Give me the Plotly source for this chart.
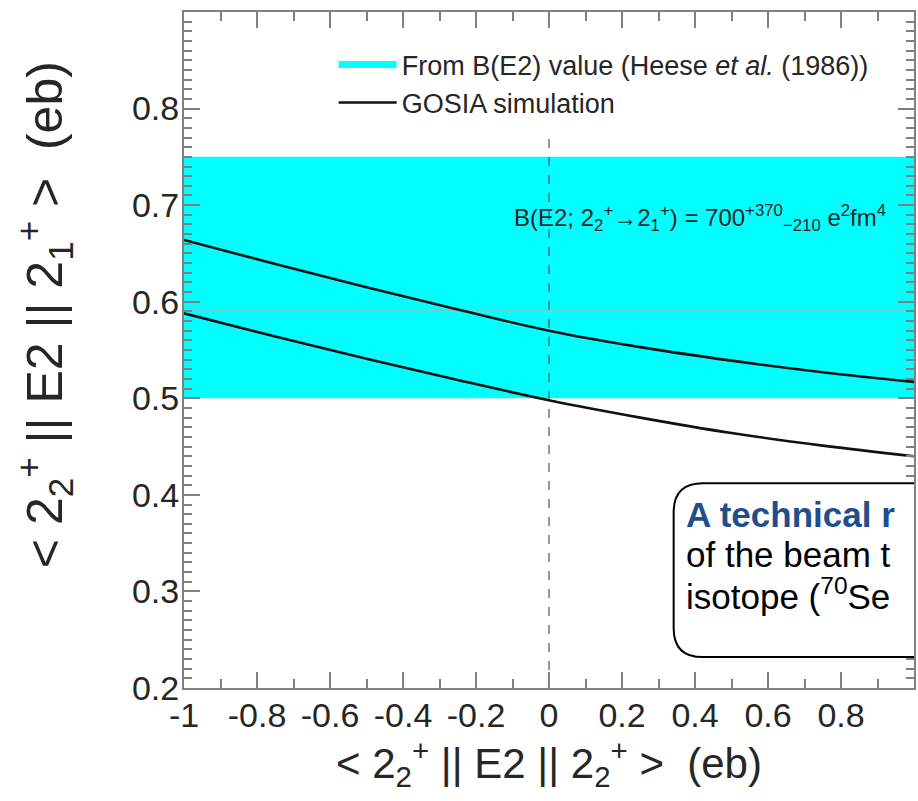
import plotly.graph_objects as go

# ---- data ----
x_vals = [-1.0, -0.75, -0.5, -0.25, 0.0, 0.25, 0.5, 0.75, 1.0]
gosia_upper = [0.664, 0.639, 0.615, 0.592, 0.570, 0.553, 0.539, 0.527, 0.517]
gosia_lower = [0.588, 0.564, 0.541, 0.519, 0.498, 0.480, 0.464, 0.451, 0.440]
band_x = [-1.0, 1.0]
band_low = [0.5, 0.5]
band_high = [0.75, 0.75]
band_central = [0.591, 0.591]
zero_line_x = [0.0, 0.0]
zero_line_y = [0.2, 0.77]
x_tickvals = [-1, -0.8, -0.6, -0.4, -0.2, 0, 0.2, 0.4, 0.6, 0.8, 1]
x_ticktext = ["-1", "-0.8", "-0.6", "-0.4", "-0.2", "0", "0.2", "0.4", "0.6", "0.8", "1"]
y_tickvals = [0.2, 0.3, 0.4, 0.5, 0.6, 0.7, 0.8]
y_ticktext = ["0.2", "0.3", "0.4", "0.5", "0.6", "0.7", "0.8"]

FONT = "Liberation Sans, Arial, sans-serif"
AXC = "#808080"
TXT = "#262626"

fig = go.Figure()
fig.add_trace(go.Scatter(x=band_x, y=band_low, mode="lines", line=dict(width=0, color="#00ffff"),
                         showlegend=False, hoverinfo="skip"))
fig.add_trace(go.Scatter(x=band_x, y=band_high, mode="lines", line=dict(width=0, color="#00ffff"),
                         fill="tonexty", fillcolor="#00ffff", showlegend=False, hoverinfo="skip"))
fig.add_trace(go.Scatter(x=band_x, y=band_central, mode="lines", line=dict(width=1.2, color="#66cfcf"),
                         showlegend=False, hoverinfo="skip"))
fig.add_trace(go.Scatter(x=zero_line_x, y=zero_line_y, mode="lines",
                         line=dict(width=1, color="#333333", dash="dash"), showlegend=False))
# legend entries
fig.add_trace(go.Scatter(x=[None], y=[None], mode="lines", line=dict(width=7, color="#00ffff"),
                         name="From B(E2) value (Heese <i>et al.</i> (1986))", legendgroup="a"))
fig.add_trace(go.Scatter(x=x_vals, y=gosia_upper, mode="lines", line=dict(width=2.6, color="#111111", shape="spline"),
                         name="GOSIA simulation", legendgroup="b"))
fig.add_trace(go.Scatter(x=x_vals, y=gosia_lower, mode="lines", line=dict(width=2.6, color="#111111", shape="spline"),
                         showlegend=False, legendgroup="b"))

axis_common = dict(showline=True, linecolor=AXC, linewidth=2, mirror="allticks", ticks="inside",
                   tickcolor=AXC, tickwidth=1.5, showgrid=False, zeroline=False,
                   tickfont=dict(family=FONT, size=34, color=TXT))
fig.update_xaxes(range=[-1, 1], tickvals=x_tickvals, ticktext=x_ticktext, ticklen=16,
                 ticklabelstandoff=-4,
                 minor=dict(ticks="inside", dtick=0.1, ticklen=9, tickcolor=AXC, tickwidth=1.5),
                 title=dict(text="< 2<sub>2</sub><sup>+</sup> || E2 || 2<sub>2</sub><sup>+</sup> >  (eb)",
                            font=dict(family=FONT, size=42, color=TXT), standoff=4),
                 **axis_common)
fig.update_yaxes(range=[0.2, 0.9], tickvals=y_tickvals, ticktext=y_ticktext, ticklen=16,
                 ticklabelstandoff=-4,
                 minor=dict(ticks="inside", dtick=0.01, ticklen=8, tickcolor=AXC, tickwidth=1.5),
                 **axis_common)

# y-axis title (placed as rotated annotation to match the reference position)
fig.add_annotation(x=-0.19, y=0.552, xref="paper", yref="paper", xanchor="center", yanchor="middle",
                   showarrow=False, textangle=-90,
                   text="< 2<sub>2</sub><sup>+</sup> || E2 || 2<sub>1</sub><sup>+</sup> >  (eb)",
                   font=dict(family=FONT, size=50, color=TXT))

fig.add_annotation(x=-0.101, y=0.687, xref="x", yref="y", xanchor="left", yanchor="middle", showarrow=False,
                   text="B(E2; 2<sub>2</sub><sup>+</sup>→2<sub>1</sub><sup>+</sup>) = 700<sup>+370</sup><sub>−210</sub> e<sup>2</sup>fm<sup>4</sup>",
                   font=dict(family=FONT, size=24, color=TXT))

# overlay box (slide callout)
x0, x1, y0, y1 = 0.3415, 1.3, 0.232, 0.412
rx, ry = 0.08, 0.03
path = (f"M {x0+rx},{y1} L {x1},{y1} L {x1},{y0} L {x0+rx},{y0} "
        f"Q {x0},{y0} {x0},{y0+ry} L {x0},{y1-ry} Q {x0},{y1} {x0+rx},{y1} Z")
fig.add_shape(type="path", path=path, xref="x", yref="y", line=dict(color="black", width=2),
              fillcolor="white", layer="above")
callout_lines = ["<b>A technical r</b>", "of the beam t", "isotope (<sup>70</sup>Se"]
callout_y = [0.380, 0.3385, 0.297]
callout_colors = ["#1f4e8c", "black", "black"]
for txt, yy, cc in zip(callout_lines, callout_y, callout_colors):
    fig.add_annotation(x=0.37, y=yy, xref="x", yref="y", xanchor="left", yanchor="middle", showarrow=False,
                       text=txt, font=dict(family=FONT, size=35, color=cc))

fig.update_layout(width=918, height=801, margin=dict(l=184, r=2, t=12, b=113),
                  plot_bgcolor="white", paper_bgcolor="white",
                  legend=dict(x=0.205, y=0.958, xanchor="left", yanchor="top", bgcolor="rgba(0,0,0,0)",
                              traceorder="normal", tracegroupgap=11, itemwidth=58,
                              font=dict(family=FONT, size=27, color=TXT)),
                  showlegend=True)
fig.write_html("out.html", config={"displayModeBar": False},
               post_script="document.body.style.margin='0px';")
